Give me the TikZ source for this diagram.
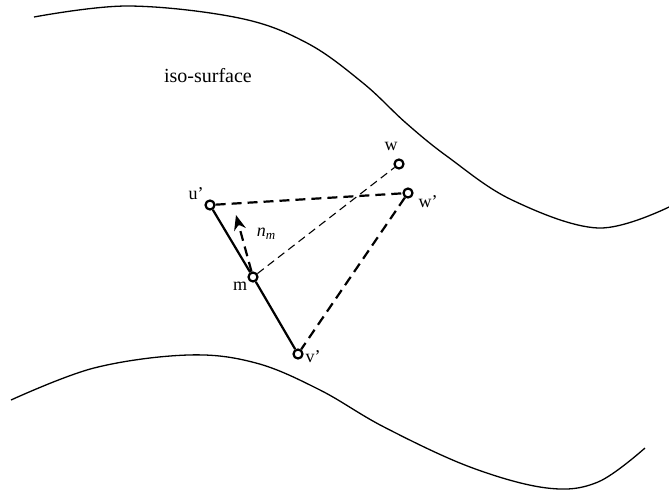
\documentclass[tikz,border=0pt]{standalone}
\usepackage{fontspec}
\setmainfont{Liberation Serif}
\usetikzlibrary{arrows.meta}
\begin{document}
\begin{tikzpicture}[x=1pt,y=-1pt,
  vtx/.style={circle,draw,line width=2.2pt,fill=white,inner sep=0pt,minimum size=9pt},
  lbl/.style={inner sep=0pt,font=\fontsize{18}{18}\selectfont},
  surf/.style={line width=1.3pt},
  edgesolid/.style={line width=2.2pt},
  edgedash/.style={line width=2.2pt,dash pattern=on 10pt off 6pt},
  thindash/.style={line width=1.1pt,dash pattern=on 8pt off 5pt}]
\useasboundingbox (0,0) rectangle (669,491);
% iso-surface boundaries
\draw[surf] plot[smooth,tension=0.6] coordinates {(34,17) (128,6) (239,18) (307,43) (363,83) (406,123) (448,157) (512,200) (598,228) (669,207)};
\draw[surf] plot[smooth,tension=0.6] coordinates {(11,400) (94,368) (188,355) (256,363) (320,390) (384,427) (470,467) (547,488) (598,482) (645,448)};
\node[font=\fontsize{20}{20}\selectfont] (iso) at (208,76) {iso-surface};
% vertices
\node[vtx] (u) at (210,205) {};
\node[vtx] (w) at (399,164) {};
\node[vtx] (wp) at (408,193) {};
\node[vtx] (m) at (253,277) {};
\node[vtx] (v) at (298,354) {};
\coordinate (nt) at (236,215);
% edges
\draw[thindash] (m) -- (w);
\draw[edgesolid] (u) -- (m);
\draw[edgesolid] (m) -- (v);
\draw[edgedash] (u) -- (wp);
\draw[edgedash] (wp) -- (v);
\draw[edgedash,-{Stealth[length=15pt,width=12pt]}] (m) -- (nt);
% labels
\node[lbl] (lw) at (391,146) {w};
\node[lbl] (lu) at (196,194) {u'};
\node[lbl] (lwp) at (428,202) {w'};
\node[lbl] (lm) at (240,286) {m};
\node[lbl] (lv) at (313,357) {v'};
\node[lbl] (ln) at (266,234) {\textit{n}\raisebox{-0.35ex}{\fontsize{13}{13}\selectfont\textit{m}}};
\end{tikzpicture}
\end{document}
